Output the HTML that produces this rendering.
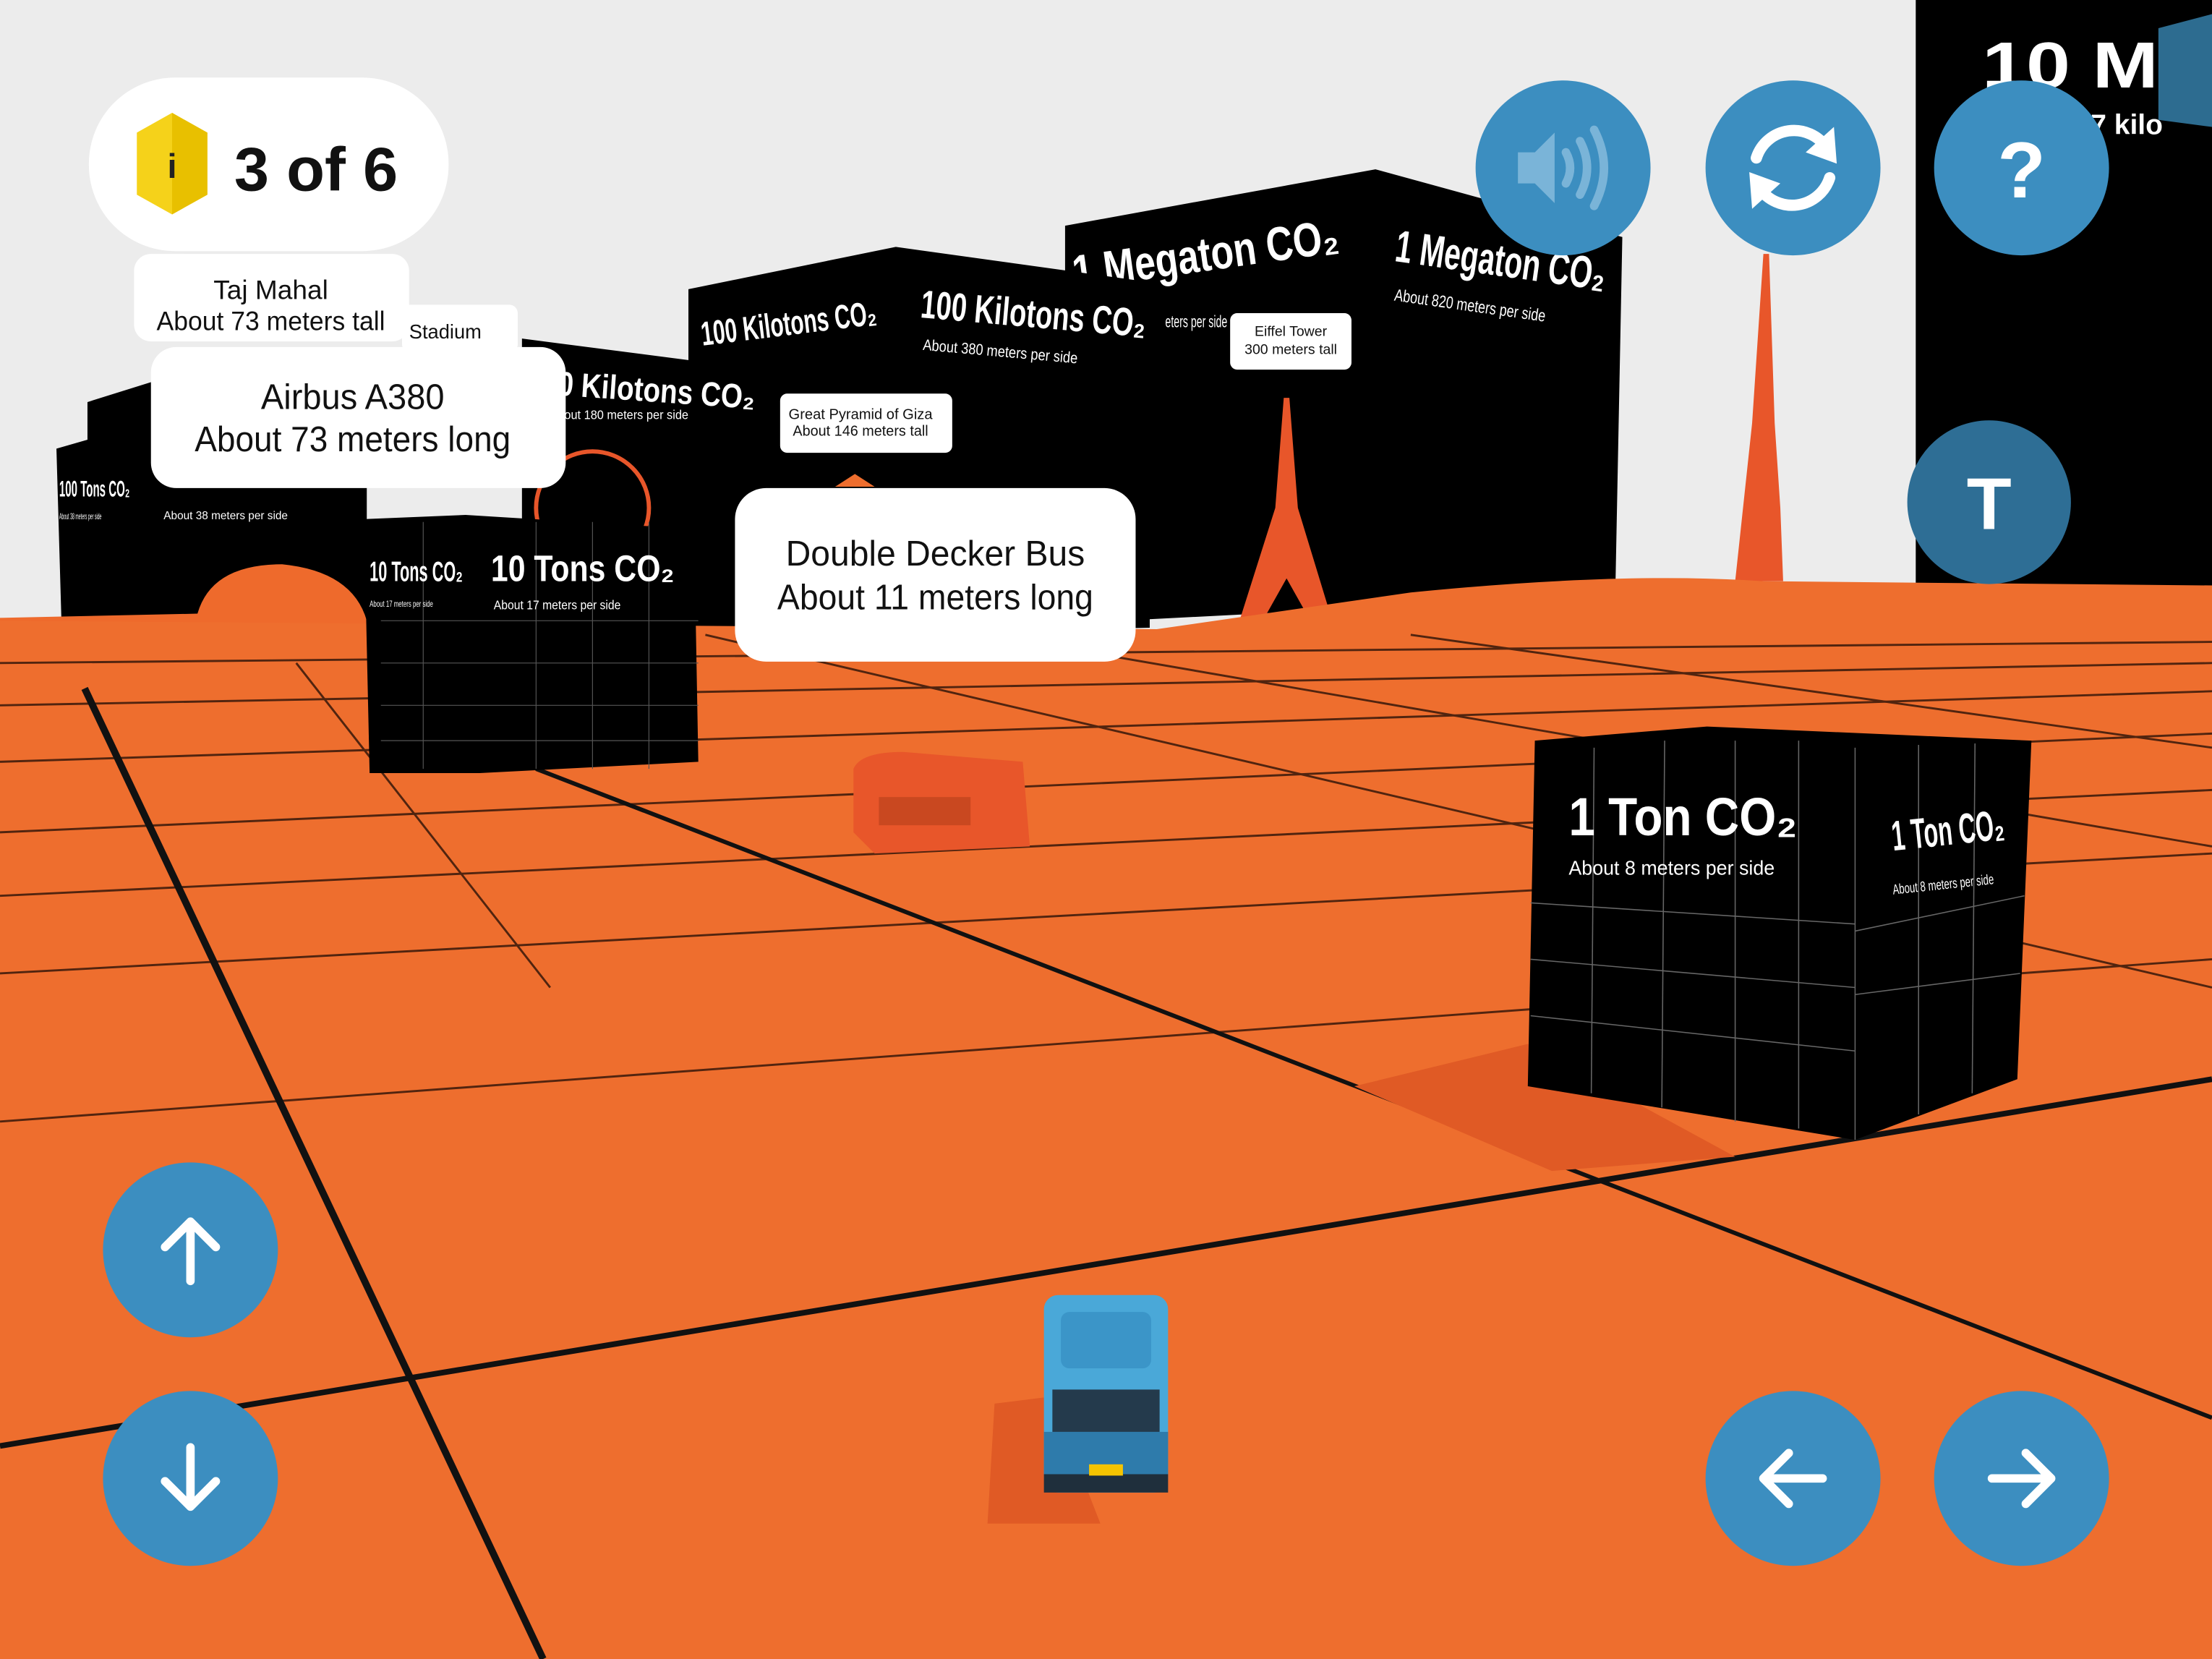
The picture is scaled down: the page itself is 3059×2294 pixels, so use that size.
<!DOCTYPE html>
<html><head><meta charset="utf-8"><style>
html,body{margin:0;padding:0;width:3059px;height:2294px;overflow:hidden;background:#ececec}
svg{display:block}
text{font-family:"Liberation Sans",sans-serif}
</style></head><body>
<svg width="3059" height="2294" viewBox="0 0 1568 1176" preserveAspectRatio="none" xmlns="http://www.w3.org/2000/svg">
<rect width="1568" height="1176" fill="#ececec"/>
<rect x="1358" y="0" width="210" height="420" fill="#000"/>
<text x="1405" y="62" font-size="46" font-weight="bold" fill="#fff" textLength="125" lengthAdjust="spacingAndGlyphs">10 M</text>
<text x="1482" y="95" font-size="20" font-weight="bold" fill="#fff">7 kilo</text>
<polygon points="1530,20 1568,10 1568,90 1530,85" fill="#2d6c90"/>
<polygon points="755,160 975,120 1150,168 1145,422 755,442" fill="#000"/>
<text x="762" y="205" font-size="34" font-weight="bold" fill="#fff" transform="rotate(-8 762 205)" textLength="190" lengthAdjust="spacingAndGlyphs">1 Megaton CO₂</text>
<text x="988" y="185" font-size="32" font-weight="bold" fill="#fff" transform="rotate(8 988 185)" textLength="150" lengthAdjust="spacingAndGlyphs">1 Megaton CO₂</text>
<text x="988" y="213" font-size="12" fill="#fff" transform="rotate(8 988 213)" textLength="108" lengthAdjust="spacingAndGlyphs">About 820 meters per side</text>
<text x="826" y="232" font-size="12" fill="#fff" textLength="44" lengthAdjust="spacingAndGlyphs">eters per side</text>
<polygon points="1250,180 1254,180 1258,300 1262,360 1264,412 1230,412 1242,300" fill="#e8562a"/>
<polygon points="488,205 635,175 815,200 815,445 488,452" fill="#000"/>
<text x="498" y="245" font-size="24" font-weight="bold" fill="#fff" transform="rotate(-7 498 245)" textLength="125" lengthAdjust="spacingAndGlyphs">100 Kilotons CO₂</text>
<text x="652" y="225" font-size="28" font-weight="bold" fill="#fff" transform="rotate(5 652 225)" textLength="160" lengthAdjust="spacingAndGlyphs">100 Kilotons CO₂</text>
<text x="654" y="248" font-size="11" fill="#fff" transform="rotate(5 654 248)" textLength="110" lengthAdjust="spacingAndGlyphs">About 380 meters per side</text>
<polygon points="370,240 540,262 540,452 370,452" fill="#000"/>
<text x="395" y="280" font-size="24" font-weight="bold" fill="#fff" transform="rotate(4 395 280)" textLength="140" lengthAdjust="spacingAndGlyphs">0 Kilotons CO₂</text>
<text x="400" y="297" font-size="9" fill="#fff" textLength="88" lengthAdjust="spacingAndGlyphs">out 180 meters per side</text>
<polygon points="62,285 110,270 110,320 62,320" fill="#000"/>
<polygon points="40,318 110,298 260,330 260,487 45,490" fill="#000"/>
<text x="42" y="352" font-size="16" font-weight="bold" fill="#fff" textLength="50" lengthAdjust="spacingAndGlyphs">100 Tons CO₂</text>
<text x="42" y="368" font-size="6" fill="#fff" textLength="30" lengthAdjust="spacingAndGlyphs">About 38 meters per side</text>
<text x="116" y="368" font-size="8" fill="#fff" textLength="88" lengthAdjust="spacingAndGlyphs">About 38 meters per side</text>
<path d="M0,438 L140,435 Q150,400 200,400 Q250,405 260,440 L260,470 Q200,480 150,465 L0,445 Z" fill="#ee6a2c"/>
<ellipse cx="60" cy="453" rx="18" ry="12" fill="#e45a26"/>
<ellipse cx="105" cy="460" rx="18" ry="12" fill="#e45a26"/>
<polygon points="910,282 914,282 920,360 945,442 930,442 912,410 894,442 878,442 904,360" fill="#e8562a"/>
<circle cx="420" cy="360" r="40" fill="none" stroke="#e8562a" stroke-width="3"/>
<path d="M0,440 L820,446 L1000,420 Q1150,405 1250,412 L1568,415 L1568,1176 L0,1176 Z" fill="#ee6e2e"/>
<g stroke="#2a1208" stroke-width="1.5" fill="none" opacity="0.8">
<line x1="0" y1="470" x2="1568" y2="455"/>
<line x1="0" y1="500" x2="1568" y2="470"/>
<line x1="0" y1="540" x2="1568" y2="490"/>
<line x1="0" y1="590" x2="1568" y2="520"/>
<line x1="0" y1="635" x2="1568" y2="560"/>
<line x1="0" y1="690" x2="1568" y2="605"/>
<line x1="0" y1="795" x2="1568" y2="680"/>
<line x1="500" y1="450" x2="1568" y2="700"/>
<line x1="700" y1="450" x2="1568" y2="600"/>
<line x1="1000" y1="450" x2="1568" y2="530"/>
<line x1="210" y1="470" x2="390" y2="700"/>
</g>
<g stroke="#111" fill="none">
<line x1="60" y1="488" x2="385" y2="1176" stroke-width="5"/>
<line x1="0" y1="1025" x2="1568" y2="765" stroke-width="4"/>
<line x1="380" y1="545" x2="1568" y2="1005" stroke-width="3"/>
</g>
<polygon points="258,368 330,365 492,375 495,540 340,548 262,548" fill="#000"/>
<g stroke="#555" stroke-width="0.6">
<line x1="270" y1="440" x2="495" y2="440"/><line x1="270" y1="470" x2="495" y2="470"/><line x1="270" y1="500" x2="495" y2="500"/><line x1="270" y1="525" x2="495" y2="525"/>
<line x1="380" y1="370" x2="380" y2="545"/><line x1="420" y1="370" x2="420" y2="545"/><line x1="460" y1="370" x2="460" y2="545"/><line x1="300" y1="370" x2="300" y2="545"/>
</g>
<text x="262" y="412" font-size="20" font-weight="bold" fill="#fff" textLength="66" lengthAdjust="spacingAndGlyphs">10 Tons CO₂</text>
<text x="262" y="430" font-size="6" fill="#fff" textLength="45" lengthAdjust="spacingAndGlyphs">About 17 meters per side</text>
<text x="348" y="412" font-size="26" font-weight="bold" fill="#fff" textLength="130" lengthAdjust="spacingAndGlyphs">10 Tons CO₂</text>
<text x="350" y="432" font-size="9" fill="#fff" textLength="90" lengthAdjust="spacingAndGlyphs">About 17 meters per side</text>
<path d="M605,545 Q610,533 640,533 L725,540 L730,600 L620,605 L605,590 Z" fill="#e8562a"/>
<rect x="623" y="565" width="65" height="20" fill="#c94820"/>
<polygon points="960,770 1083,740 1230,820 1100,830" fill="#e05a25"/>
<polygon points="1088,525 1210,515 1440,525 1430,765 1315,808 1083,770" fill="#000"/>
<g stroke="#666" stroke-width="0.8">
<line x1="1085" y1="640" x2="1315" y2="655"/><line x1="1085" y1="680" x2="1315" y2="700"/><line x1="1085" y1="720" x2="1315" y2="745"/>
<line x1="1130" y1="530" x2="1128" y2="775"/><line x1="1180" y1="525" x2="1178" y2="785"/><line x1="1230" y1="525" x2="1230" y2="795"/><line x1="1275" y1="525" x2="1275" y2="800"/>
<line x1="1315" y1="530" x2="1315" y2="808"/><line x1="1360" y1="528" x2="1360" y2="790"/><line x1="1400" y1="527" x2="1398" y2="775"/>
<line x1="1315" y1="660" x2="1435" y2="635"/><line x1="1315" y1="705" x2="1432" y2="690"/>
</g>
<text x="1112" y="592" font-size="38" font-weight="bold" fill="#fff" textLength="162" lengthAdjust="spacingAndGlyphs">1 Ton CO₂</text>
<text x="1112" y="620" font-size="14" fill="#fff" textLength="146" lengthAdjust="spacingAndGlyphs">About 8 meters per side</text>
<text x="1342" y="603" font-size="30" font-weight="bold" fill="#fff" transform="rotate(-6 1342 603)" textLength="80" lengthAdjust="spacingAndGlyphs">1 Ton CO₂</text>
<text x="1342" y="634" font-size="10" fill="#fff" transform="rotate(-6 1342 634)" textLength="72" lengthAdjust="spacingAndGlyphs">About 8 meters per side</text>
<polygon points="705,995 745,990 780,1080 700,1080" fill="#e05a25"/>
<rect x="740" y="918" width="88" height="140" rx="10" fill="#4aa8d8"/>
<rect x="752" y="930" width="64" height="40" rx="6" fill="#3b95c8"/>
<rect x="746" y="985" width="76" height="30" fill="#243a4c"/>
<rect x="740" y="1015" width="88" height="30" fill="#2e7bab"/>
<rect x="740" y="1045" width="88" height="13" fill="#1f2f3c"/>
<rect x="772" y="1038" width="24" height="8" fill="#f5c400"/>
<rect x="95" y="180" width="195" height="62" rx="12" fill="#fff"/>
<text x="192" y="212" font-size="19" text-anchor="middle" fill="#111">Taj Mahal</text>
<text x="192" y="234" font-size="19" text-anchor="middle" fill="#111" textLength="162" lengthAdjust="spacingAndGlyphs">About 73 meters tall</text>
<rect x="285" y="216" width="82" height="34" rx="6" fill="#fff"/>
<text x="290" y="240" font-size="14" fill="#111">Stadium</text>
<rect x="107" y="246" width="294" height="100" rx="18" fill="#fff"/>
<text x="250" y="290" font-size="25" text-anchor="middle" fill="#111" textLength="130" lengthAdjust="spacingAndGlyphs">Airbus A380</text>
<text x="250" y="320" font-size="25" text-anchor="middle" fill="#111" textLength="224" lengthAdjust="spacingAndGlyphs">About 73 meters long</text>
<rect x="553" y="279" width="122" height="42" rx="5" fill="#fff"/>
<text x="610" y="297" font-size="10.5" text-anchor="middle" fill="#111" textLength="102" lengthAdjust="spacingAndGlyphs">Great Pyramid of Giza</text>
<text x="610" y="309" font-size="10.5" text-anchor="middle" fill="#111" textLength="96" lengthAdjust="spacingAndGlyphs">About 146 meters tall</text>
<rect x="872" y="222" width="86" height="40" rx="5" fill="#fff"/>
<text x="915" y="238" font-size="10" text-anchor="middle" fill="#111">Eiffel Tower</text>
<text x="915" y="251" font-size="10" text-anchor="middle" fill="#111">300 meters tall</text>
<polygon points="592,345 606,336 620,345" fill="#ee6e2e"/>
<rect x="521" y="346" width="284" height="123" rx="22" fill="#fff"/>
<text x="663" y="401" font-size="25" text-anchor="middle" fill="#111" textLength="212" lengthAdjust="spacingAndGlyphs">Double Decker Bus</text>
<text x="663" y="432" font-size="25" text-anchor="middle" fill="#111" textLength="224" lengthAdjust="spacingAndGlyphs">About 11 meters long</text>
<rect x="63" y="55" width="255" height="123" rx="61" fill="#fff"/>
<polygon points="122,80 147,94 147,138 122,152 97,138 97,94" fill="#f5d21a"/>
<polygon points="122,80 147,94 147,138 122,152" fill="#e8c000"/>
<text x="122" y="126" font-size="24" font-weight="bold" text-anchor="middle" fill="#222" font-family="Liberation Mono">i</text>
<text x="166" y="135" font-size="44" font-weight="bold" fill="#111" textLength="116" lengthAdjust="spacingAndGlyphs">3 of 6</text>
<g fill="#3c8ec0">
<circle cx="1108" cy="119" r="62"/><circle cx="1271" cy="119" r="62"/><circle cx="1433" cy="119" r="62"/>
<circle cx="135" cy="886" r="62"/><circle cx="135" cy="1048" r="62"/>
<circle cx="1271" cy="1048" r="62"/><circle cx="1433" cy="1048" r="62"/>
</g>
<circle cx="1410" cy="356" r="58" fill="#2e6e95"/>
<text x="1410" y="375" font-size="52" font-weight="bold" text-anchor="middle" fill="#fff">T</text>
<text x="1433" y="140" font-size="56" font-weight="bold" text-anchor="middle" fill="#fff">?</text>
<g fill="#7ab4d8"><polygon points="1076,108 1088,108 1102,94 1102,144 1088,130 1076,130"/></g>
<g stroke="#7ab4d8" stroke-width="6" fill="none" stroke-linecap="round">
<path d="M1110,108 Q1116,119 1110,130"/><path d="M1120,100 Q1130,119 1120,138"/><path d="M1130,92 Q1144,119 1130,146"/></g>
<g stroke="#fff" stroke-width="8" fill="none" stroke-linecap="round">
<path d="M1245,112 A28,28 0 0 1 1295,105"/><path d="M1297,126 A28,28 0 0 1 1247,133"/></g>
<polygon points="1300,90 1302,116 1280,108" fill="#fff"/><polygon points="1242,148 1240,122 1262,130" fill="#fff"/>
<g stroke="#fff" stroke-width="6" fill="none" stroke-linecap="round" stroke-linejoin="round">
<path d="M135,908 L135,866 M117,884 L135,866 L153,884"/>
<path d="M135,1026 L135,1068 M117,1050 L135,1068 L153,1050"/>
<path d="M1292,1048 L1250,1048 M1268,1030 L1250,1048 L1268,1066"/>
<path d="M1412,1048 L1454,1048 M1436,1030 L1454,1048 L1436,1066"/>
</g>
</svg>
</body></html>
